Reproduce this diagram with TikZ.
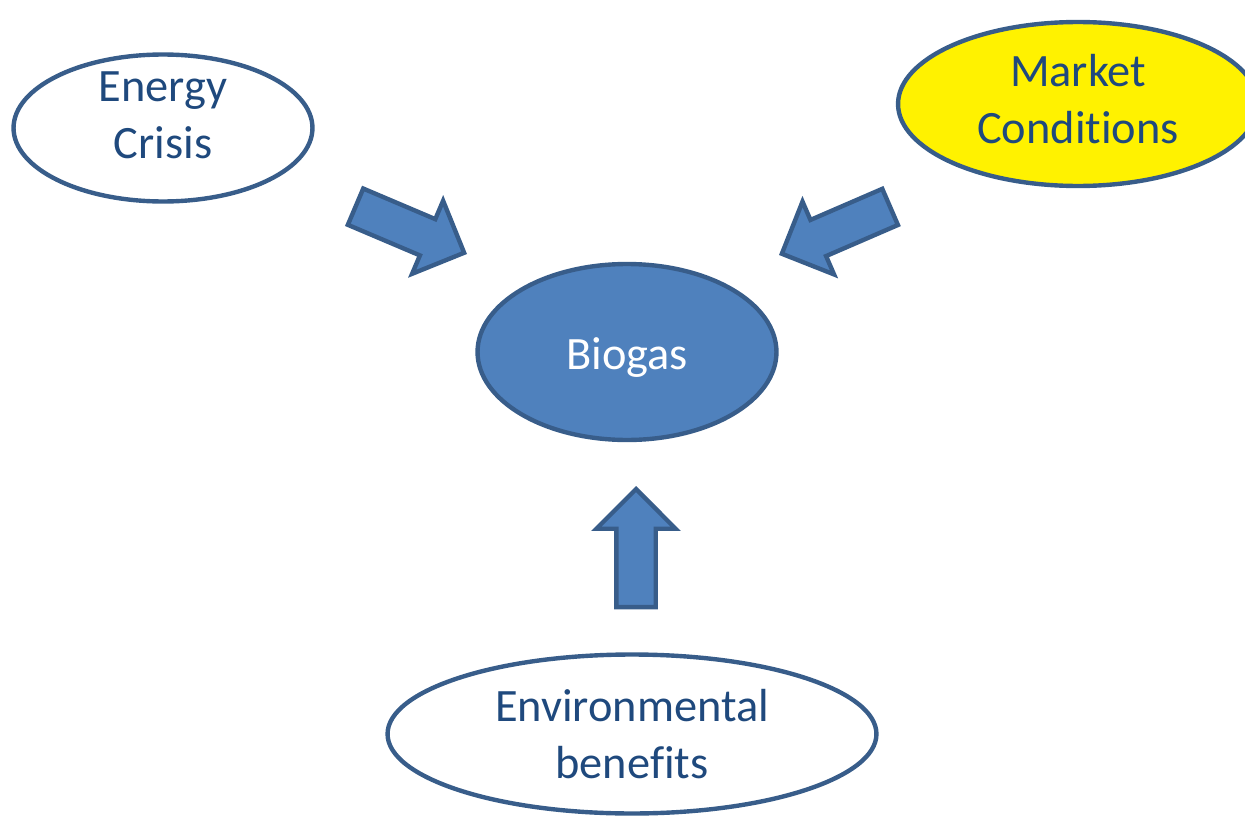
\documentclass[tikz,border=0pt]{standalone}
\usepackage{fontspec}
\setmainfont[Ligatures=NoCommon]{Carlito}
\usetikzlibrary{shapes.geometric,shapes.arrows}

\definecolor{edgeblue}{HTML}{385D8A}
\definecolor{fillblue}{HTML}{4F81BD}
\definecolor{textblue}{HTML}{1F497D}

\begin{document}
\begin{tikzpicture}[x=0.02cm,y=-0.02cm,
    bubble/.style={ellipse,draw=edgeblue,line width=2.5pt,inner sep=0pt},
    caption/.style={align=center,text=textblue,inner sep=0pt,
        font=\fontsize{26.4}{32.3}\selectfont},
    push/.style={single arrow,draw=edgeblue,fill=fillblue,line width=2.5pt,
        inner xsep=0pt,inner ysep=0.35cm,minimum height=2.36cm,
        single arrow head extend=0.4cm,anchor=tip}]
    \useasboundingbox (0,0) rectangle (1245,818);

    % the four ellipses
    \node[bubble,minimum width=5.98cm,minimum height=2.94cm] (energy) at (163,128) {};
    \node[bubble,fill=yellow,minimum width=7.2cm,minimum height=3.28cm] (market) at (1078,104) {};
    \node[bubble,fill=fillblue,minimum width=5.98cm,minimum height=3.52cm] (biogas) at (627,352) {};
    \node[bubble,minimum width=9.78cm,minimum height=3.18cm] (env) at (632,734) {};

    % their texts
    \node[caption] (energytext) at (163,115) {Energy\\Crisis};
    \node[caption] (markettext) at (1078,99) {Market\\Conditions};
    \node[caption,text=white] (biogastext) at (627,358) {Biogas};
    \node[caption] (envtext) at (632,734) {Environmental\\benefits};

    % block arrows pointing at the middle
    \node[push,rotate=-23] (pushA) at (467,254) {};
    \node[push,rotate=203.4] (pushB) at (779,255) {};
    \node[push,rotate=90] (pushC) at (636,486) {};
\end{tikzpicture}
\end{document}
